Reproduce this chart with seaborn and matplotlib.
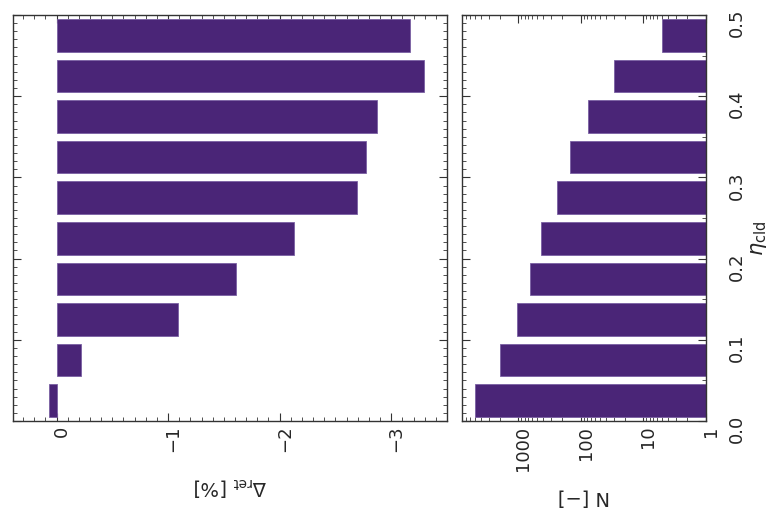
import numpy as np
import pandas as pd
import matplotlib
matplotlib.use("Agg")
import matplotlib.pyplot as plt
import matplotlib.ticker as mticker
import matplotlib.transforms as mtrans
import seaborn as sns

# ---- data ----
eta_centers = [0.025, 0.075, 0.125, 0.175, 0.225, 0.275, 0.325, 0.375, 0.425, 0.475]
delta_ret = [0.07, -0.22, -1.09, -1.61, -2.13, -2.69, -2.77, -2.87, -3.29, -3.17]
counts = [5000, 2000, 1040, 645, 430, 240, 150, 78, 30, 5]
eta_ticks = [0.0, 0.1, 0.2, 0.3, 0.4, 0.5]
eta_ticklabels = ["0.0", "0.1", "0.2", "0.3", "0.4", "0.5"]
delta_ticks = [0, -1, -2, -3]
delta_ticklabels = ["0", "\u22121", "\u22122", "\u22123"]
n_ticks = [1000, 100, 10, 1]
n_ticklabels = ["1000", "100", "10", "1"]

bar_color = "#4a2577"
edge_color = "#7a5fa3"
frame_color = "#333333"

sns.set_theme(style="white")
plt.rcParams['font.family'] = ['DejaVu Sans']

W, H = 769, 525
fig = plt.figure(figsize=(W / 100, H / 100), dpi=100)

def frac_rect(x0, x1, y0, y1):
    return [x0 / W, 1 - y1 / H, (x1 - x0) / W, (y1 - y0) / H]

ax1 = fig.add_axes(frac_rect(13, 447, 15, 421))
ax2 = fig.add_axes(frac_rect(462, 706, 15, 421))

df1 = pd.DataFrame({"eta": eta_centers, "delta": delta_ret})
df2 = pd.DataFrame({"eta": eta_centers, "N": counts})

sns.barplot(data=df1, x="delta", y="eta", orient="h", native_scale=True,
            color=bar_color, saturation=1, edgecolor=edge_color, linewidth=0.6,
            ax=ax1)
sns.barplot(data=df2, x="N", y="eta", orient="h", native_scale=True,
            color=bar_color, saturation=1, edgecolor=edge_color, linewidth=0.6,
            ax=ax2)
ax2.set_xscale("log", nonpositive="clip")

tick_fs = 13

# left panel
ax1.set_xlim(0.39, -3.5)
ax1.set_ylim(0, 0.5)
ax1.xaxis.set_major_locator(mticker.FixedLocator(delta_ticks))
ax1.xaxis.set_major_formatter(mticker.FixedFormatter(delta_ticklabels))
ax1.xaxis.set_minor_locator(mticker.MultipleLocator(0.1))
ax1.set_yticks(eta_ticks)
ax1.set_yticklabels([])
ax1.yaxis.set_minor_locator(mticker.MultipleLocator(0.01))
ax1.tick_params(axis="x", which="major", labelrotation=90, labelsize=tick_fs)
ax1.set_xlabel(r"$\Delta_{\rm ret}$ [%]", rotation=180, fontsize=14, labelpad=16)
ax1.set_ylabel("")

# right panel
ax2.set_xlim(8000, 1)
ax2.set_ylim(0, 0.5)
ax2.xaxis.set_major_locator(mticker.FixedLocator(n_ticks))
ax2.xaxis.set_major_formatter(mticker.FixedFormatter(n_ticklabels))
ax2.xaxis.set_minor_locator(mticker.LogLocator(base=10, subs=np.arange(2, 10)))
ax2.xaxis.set_minor_formatter(mticker.NullFormatter())
ax2.set_yticks(eta_ticks)
ax2.yaxis.set_minor_locator(mticker.MultipleLocator(0.01))
ax2.yaxis.tick_right()
ax2.set_yticklabels(eta_ticklabels)
ax2.tick_params(axis="x", which="major", labelrotation=90, labelsize=tick_fs)
ax2.tick_params(axis="y", which="major", labelrotation=90, labelsize=tick_fs, pad=16)
ax2.set_xlabel("N [\u2212]", rotation=180, fontsize=14, labelpad=12)
ax2.set_ylabel("")

for ax in (ax1, ax2):
    ax.tick_params(which="both", direction="in", top=True, bottom=True,
                   left=True, right=True, color=frame_color)
    ax.tick_params(which="major", length=6, width=0.8)
    ax.tick_params(which="minor", length=3, width=0.6)
    for s in ax.spines.values():
        s.set_color(frame_color)
        s.set_linewidth(1.0)
ax2.tick_params(axis="y", labelright=True, labelleft=False)

# small offsets of tick labels as seen in the reference
shift_x = mtrans.ScaledTranslation(5 / 100, 0, fig.dpi_scale_trans)
for ax in (ax1, ax2):
    for lab in ax.get_xticklabels():
        lab.set_transform(lab.get_transform() + shift_x)
shift_y = mtrans.ScaledTranslation(0, -8 / 100, fig.dpi_scale_trans)
for lab in ax2.get_yticklabels():
    lab.set_verticalalignment("center")
    lab.set_transform(lab.get_transform() + shift_y)

fig.text(759 / W, 1 - 238 / H, r"$\eta_{\rm cld}$", rotation=90,
         ha="center", va="center", fontsize=15)

fig.savefig("out.png", dpi=100)
